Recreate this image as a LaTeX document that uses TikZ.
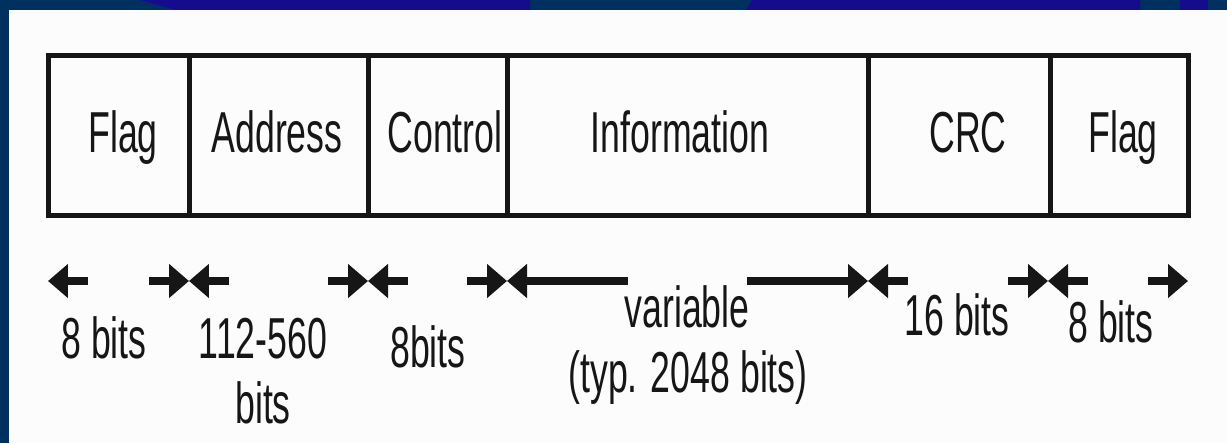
\documentclass[tikz,border=0pt]{standalone}
\usepackage{fontspec}
\setmainfont{Liberation Sans}
\usepackage{graphicx}
\usetikzlibrary{arrows.meta}

\definecolor{navy}{RGB}{0,48,96}
\definecolor{indigo}{RGB}{20,12,140}
\definecolor{paper}{RGB}{252,252,252}
\definecolor{ink}{RGB}{22,22,22}

\newcommand{\tall}[1]{\scalebox{1}[1.62]{#1}} % stretched letters

\tikzset{
  field/.style={anchor=base, inner sep=0pt, text=ink,
    font=\fontsize{20.3}{24}\selectfont},
  frame/.style={line width=0.1cm, draw=ink},
  bitarrow/.style={line width=0.15cm, draw=ink,
    -{Triangle[length=0.4cm, width=0.66cm]}},
}

\begin{document}
\begin{tikzpicture}[x=0.02cm, y=-0.02cm] % one unit = one pixel

    % slide background
    \fill[navy] (0,0) rectangle (1227,443);
    \fill[indigo] (140,0) -- (530,0) -- (530,10) -- (176,10) -- cycle;
    \fill[indigo] (752,0) -- (1140,0) -- (1140,10) -- (746,10) -- cycle;
    \fill[indigo] (1180,0) rectangle (1208,10);
    \fill[paper] (9,10) rectangle (1227,443);
    \useasboundingbox (0,0) rectangle (1227,443);

    % the frame and its fields
    \draw[frame] (48,55) rectangle (1188,215);
    \foreach \x in {189,368,507,868,1050}
        \draw[frame] (\x,55) -- (\x,215);

    \node[field] (flagL) at (123,152) {\tall{Flag}};
    \node[field] (addr)  at (277,152) {\tall{Address}};
    \node[field] (ctrl)  at (445,152) {\tall{Control}};
    \node[field] (info)  at (680,152) {\tall{Information}};
    \node[field] (crc)   at (968,152) {\tall{CRC}};
    \node[field] (flagR) at (1123,152) {\tall{Flag}};

    % field borders on the arrow row
    \foreach[count=\i] \x in {48,189,368,507,868,1048,1188}
        \coordinate (b\i) at (\x,281);

    \foreach \i/\j/\len in {1/2/40, 2/3/40, 3/4/40, 4/5/121, 5/6/40, 6/7/40} {
        \path (b\i) ++(\len,0) coordinate (sl\i);
        \path (b\j) ++(-\len,0) coordinate (sr\i);
        \draw[bitarrow] (sl\i) -- (b\i);
        \draw[bitarrow] (sr\i) -- (b\j);
    }

    \node[field] (lenflagL) at (104,358) {\tall{8 bits}};
    \node[field] (lenaddr)  at (263,358) {\tall{112-560}};
    \node[field] (lenaddrb) at (263,423) {\tall{bits}};
    \node[field] (lenctrl)  at (428,367) {\tall{8bits}};
    \node[field] (leninfo)  at (687,327) {\tall{variable}};
    \node[field] (leninfob) at (688,392) {\tall{(typ. 2048 bits)}};
    \node[field] (lencrc)   at (957,335) {\tall{16 bits}};
    \node[field] (lenflagR) at (1111,342) {\tall{8 bits}};
\end{tikzpicture}
\end{document}
